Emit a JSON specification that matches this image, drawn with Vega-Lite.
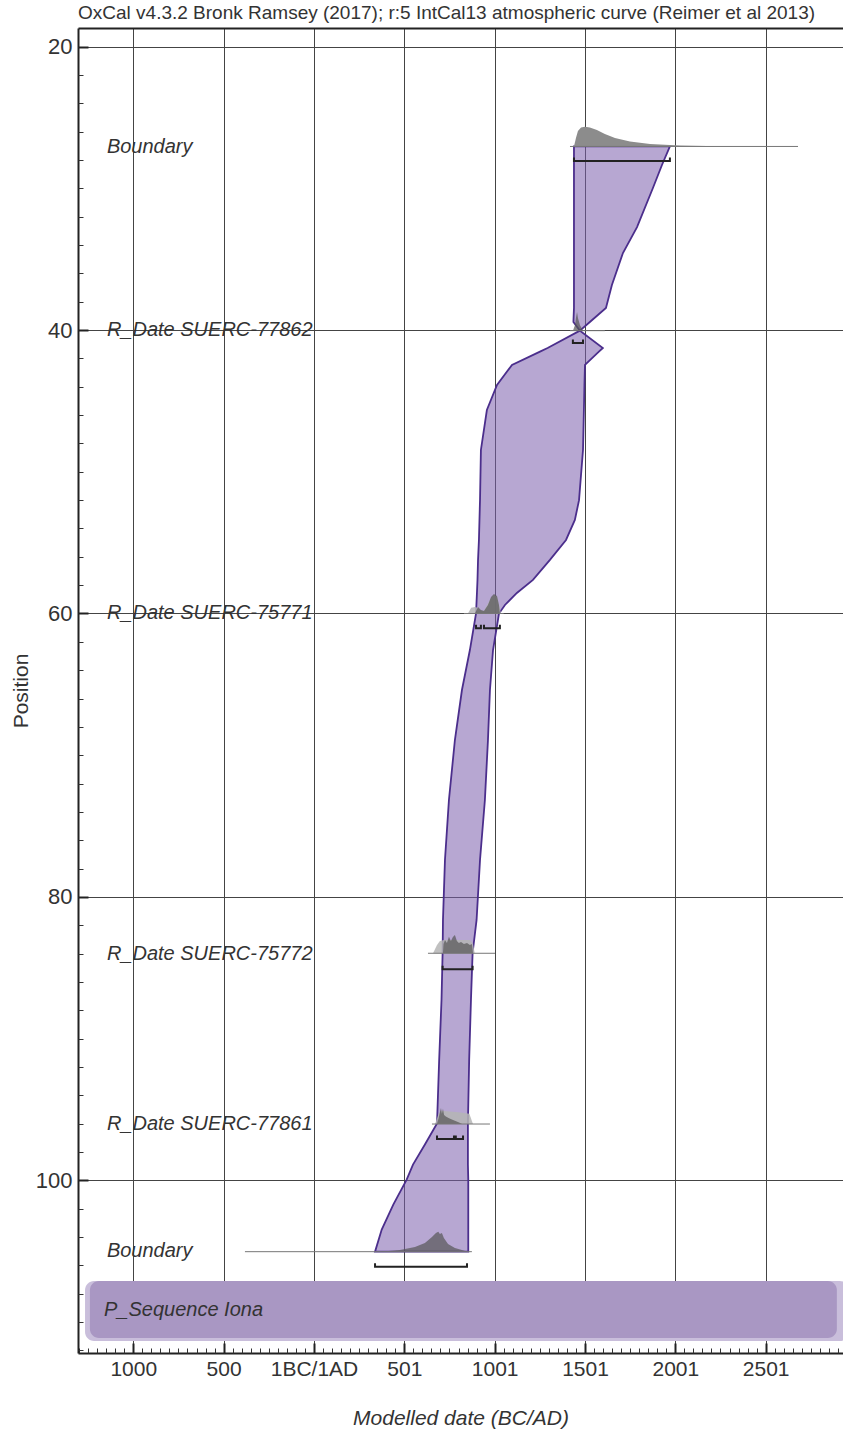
{
  "$schema": "https://vega.github.io/schema/vega-lite/v6.json",
  "width": 765,
  "height": 1325,
  "autosize": "none",
  "padding": {"left": 78, "top": 28, "right": 0, "bottom": 76},
  "background": "white",
  "title": {"text": "OxCal v4.3.2 Bronk Ramsey (2017); r:5 IntCal13 atmospheric curve (Reimer et al 2013)", "anchor": "start", "frame": "group", "font": "Liberation Sans Narrow, Liberation Sans", "fontSize": 19, "fontWeight": "normal", "color": "#333", "baseline": "alphabetic", "offset": -10},
  "config": {"view": {"stroke": null}, "font": "Liberation Sans"},
  "datasets": {
    "band": [
      {"part": "outer", "x1": -1267, "x2": 2960, "y1": 107.11, "y2": 111.35},
      {"part": "inner", "x1": -1240, "x2": 2894, "y1": 107.11, "y2": 111.14}
    ],
    "env": [
      {"pos": 27.04, "left": 1439, "right": 1970},
      {"pos": 28.35, "left": 1439, "right": 1926},
      {"pos": 29.97, "left": 1439, "right": 1876},
      {"pos": 32.73, "left": 1439, "right": 1788},
      {"pos": 34.56, "left": 1439, "right": 1710},
      {"pos": 36.82, "left": 1439, "right": 1649},
      {"pos": 38.44, "left": 1439, "right": 1616},
      {"pos": 39.43, "left": 1436, "right": 1527},
      {"pos": 40.04, "left": 1472, "right": 1472},
      {"pos": 41.26, "left": 1293, "right": 1599},
      {"pos": 41.52, "left": 1251, "right": 1577},
      {"pos": 42.46, "left": 1096, "right": 1500},
      {"pos": 43.87, "left": 1013, "right": 1497},
      {"pos": 45.64, "left": 957, "right": 1494},
      {"pos": 48.46, "left": 924, "right": 1489},
      {"pos": 52.0, "left": 919, "right": 1467},
      {"pos": 53.4, "left": 916, "right": 1444},
      {"pos": 54.81, "left": 913, "right": 1395},
      {"pos": 56.22, "left": 908, "right": 1306},
      {"pos": 57.63, "left": 905, "right": 1212},
      {"pos": 58.55, "left": 902, "right": 1123},
      {"pos": 59.4, "left": 899, "right": 1057},
      {"pos": 60.0, "left": 897, "right": 1024},
      {"pos": 62.58, "left": 863, "right": 991},
      {"pos": 65.4, "left": 819, "right": 974},
      {"pos": 68.93, "left": 780, "right": 963},
      {"pos": 73.16, "left": 747, "right": 946},
      {"pos": 77.4, "left": 725, "right": 919},
      {"pos": 81.63, "left": 714, "right": 900},
      {"pos": 83.96, "left": 712, "right": 878},
      {"pos": 87.24, "left": 706, "right": 869},
      {"pos": 91.48, "left": 693, "right": 859},
      {"pos": 95.99, "left": 681, "right": 852},
      {"pos": 97.48, "left": 614, "right": 852},
      {"pos": 98.89, "left": 548, "right": 852},
      {"pos": 99.95, "left": 513, "right": 854},
      {"pos": 101.72, "left": 439, "right": 854},
      {"pos": 103.48, "left": 375, "right": 854},
      {"pos": 105.04, "left": 338, "right": 854}
    ],
    "dist": [
      {"id": "b1", "kind": "top", "year": 1439, "top": 27.04, "base": 27.04},
      {"id": "b1", "kind": "top", "year": 1450, "top": 26.44, "base": 27.04},
      {"id": "b1", "kind": "top", "year": 1461, "top": 25.95, "base": 27.04},
      {"id": "b1", "kind": "top", "year": 1478, "top": 25.7, "base": 27.04},
      {"id": "b1", "kind": "top", "year": 1500, "top": 25.65, "base": 27.04},
      {"id": "b1", "kind": "top", "year": 1527, "top": 25.7, "base": 27.04},
      {"id": "b1", "kind": "top", "year": 1566, "top": 25.88, "base": 27.04},
      {"id": "b1", "kind": "top", "year": 1610, "top": 26.16, "base": 27.04},
      {"id": "b1", "kind": "top", "year": 1666, "top": 26.44, "base": 27.04},
      {"id": "b1", "kind": "top", "year": 1749, "top": 26.69, "base": 27.04},
      {"id": "b1", "kind": "top", "year": 1860, "top": 26.87, "base": 27.04},
      {"id": "b1", "kind": "top", "year": 2026, "top": 26.97, "base": 27.04},
      {"id": "b1", "kind": "top", "year": 2247, "top": 27.02, "base": 27.04},
      {"id": "b1", "kind": "top", "year": 2468, "top": 27.04, "base": 27.04},
      {"id": "d1", "kind": "post", "year": 1433, "top": 40.04, "base": 40.04},
      {"id": "d1", "kind": "post", "year": 1445, "top": 39.64, "base": 40.04},
      {"id": "d1", "kind": "post", "year": 1450, "top": 39.15, "base": 40.04},
      {"id": "d1", "kind": "post", "year": 1456, "top": 38.72, "base": 40.04},
      {"id": "d1", "kind": "post", "year": 1461, "top": 39.15, "base": 40.04},
      {"id": "d1", "kind": "post", "year": 1472, "top": 39.64, "base": 40.04},
      {"id": "d1", "kind": "post", "year": 1489, "top": 40.04, "base": 40.04},
      {"id": "d2p", "kind": "prior", "year": 852, "top": 60.0, "base": 60.0},
      {"id": "d2p", "kind": "prior", "year": 870, "top": 59.6, "base": 60.0},
      {"id": "d2p", "kind": "prior", "year": 891, "top": 59.55, "base": 60.0},
      {"id": "d2p", "kind": "prior", "year": 908, "top": 59.6, "base": 60.0},
      {"id": "d2p", "kind": "prior", "year": 924, "top": 59.8, "base": 60.0},
      {"id": "d2p", "kind": "prior", "year": 941, "top": 59.8, "base": 60.0},
      {"id": "d2p", "kind": "prior", "year": 963, "top": 59.3, "base": 60.0},
      {"id": "d2p", "kind": "prior", "year": 980, "top": 58.9, "base": 60.0},
      {"id": "d2p", "kind": "prior", "year": 996, "top": 58.7, "base": 60.0},
      {"id": "d2p", "kind": "prior", "year": 1013, "top": 58.8, "base": 60.0},
      {"id": "d2p", "kind": "prior", "year": 1024, "top": 59.4, "base": 60.0},
      {"id": "d2p", "kind": "prior", "year": 1035, "top": 60.0, "base": 60.0},
      {"id": "d2", "kind": "post", "year": 891, "top": 60.0, "base": 60.0},
      {"id": "d2", "kind": "post", "year": 908, "top": 59.54, "base": 60.0},
      {"id": "d2", "kind": "post", "year": 924, "top": 59.75, "base": 60.0},
      {"id": "d2", "kind": "post", "year": 941, "top": 59.82, "base": 60.0},
      {"id": "d2", "kind": "post", "year": 963, "top": 59.4, "base": 60.0},
      {"id": "d2", "kind": "post", "year": 980, "top": 58.83, "base": 60.0},
      {"id": "d2", "kind": "post", "year": 996, "top": 58.62, "base": 60.0},
      {"id": "d2", "kind": "post", "year": 1013, "top": 58.76, "base": 60.0},
      {"id": "d2", "kind": "post", "year": 1024, "top": 59.4, "base": 60.0},
      {"id": "d2", "kind": "post", "year": 1029, "top": 60.0, "base": 60.0},
      {"id": "d3p", "kind": "prior", "year": 659, "top": 83.98, "base": 83.98},
      {"id": "d3p", "kind": "prior", "year": 681, "top": 83.39, "base": 83.98},
      {"id": "d3p", "kind": "prior", "year": 697, "top": 83.11, "base": 83.98},
      {"id": "d3p", "kind": "prior", "year": 719, "top": 83.04, "base": 83.98},
      {"id": "d3p", "kind": "prior", "year": 863, "top": 83.04, "base": 83.98},
      {"id": "d3p", "kind": "prior", "year": 880, "top": 83.3, "base": 83.98},
      {"id": "d3p", "kind": "prior", "year": 890, "top": 83.98, "base": 83.98},
      {"id": "d3", "kind": "post", "year": 714, "top": 83.98, "base": 83.98},
      {"id": "d3", "kind": "post", "year": 717, "top": 83.32, "base": 83.98},
      {"id": "d3", "kind": "post", "year": 725, "top": 83.04, "base": 83.98},
      {"id": "d3", "kind": "post", "year": 736, "top": 83.25, "base": 83.98},
      {"id": "d3", "kind": "post", "year": 747, "top": 82.81, "base": 83.98},
      {"id": "d3", "kind": "post", "year": 758, "top": 83.11, "base": 83.98},
      {"id": "d3", "kind": "post", "year": 769, "top": 82.83, "base": 83.98},
      {"id": "d3", "kind": "post", "year": 780, "top": 82.69, "base": 83.98},
      {"id": "d3", "kind": "post", "year": 791, "top": 83.11, "base": 83.98},
      {"id": "d3", "kind": "post", "year": 802, "top": 83.25, "base": 83.98},
      {"id": "d3", "kind": "post", "year": 814, "top": 83.18, "base": 83.98},
      {"id": "d3", "kind": "post", "year": 830, "top": 83.32, "base": 83.98},
      {"id": "d3", "kind": "post", "year": 847, "top": 83.25, "base": 83.98},
      {"id": "d3", "kind": "post", "year": 863, "top": 83.39, "base": 83.98},
      {"id": "d3", "kind": "post", "year": 874, "top": 83.32, "base": 83.98},
      {"id": "d3", "kind": "post", "year": 880, "top": 83.98, "base": 83.98},
      {"id": "d4p", "kind": "prior", "year": 670, "top": 96.03, "base": 96.03},
      {"id": "d4p", "kind": "prior", "year": 690, "top": 95.3, "base": 96.03},
      {"id": "d4p", "kind": "prior", "year": 705, "top": 95.1, "base": 96.03},
      {"id": "d4p", "kind": "prior", "year": 800, "top": 95.2, "base": 96.03},
      {"id": "d4p", "kind": "prior", "year": 860, "top": 95.3, "base": 96.03},
      {"id": "d4p", "kind": "prior", "year": 880, "top": 96.03, "base": 96.03},
      {"id": "d4", "kind": "post", "year": 681, "top": 96.03, "base": 96.03},
      {"id": "d4", "kind": "post", "year": 690, "top": 95.6, "base": 96.03},
      {"id": "d4", "kind": "post", "year": 697, "top": 95.2, "base": 96.03},
      {"id": "d4", "kind": "post", "year": 703, "top": 94.9, "base": 96.03},
      {"id": "d4", "kind": "post", "year": 708, "top": 95.3, "base": 96.03},
      {"id": "d4", "kind": "post", "year": 714, "top": 94.95, "base": 96.03},
      {"id": "d4", "kind": "post", "year": 720, "top": 95.4, "base": 96.03},
      {"id": "d4", "kind": "post", "year": 730, "top": 95.5, "base": 96.03},
      {"id": "d4", "kind": "post", "year": 745, "top": 95.6, "base": 96.03},
      {"id": "d4", "kind": "post", "year": 760, "top": 95.7, "base": 96.03},
      {"id": "d4", "kind": "post", "year": 780, "top": 95.8, "base": 96.03},
      {"id": "d4", "kind": "post", "year": 800, "top": 95.9, "base": 96.03},
      {"id": "d4", "kind": "post", "year": 820, "top": 96.03, "base": 96.03},
      {"id": "b2", "kind": "post", "year": 365, "top": 105.04, "base": 105.04},
      {"id": "b2", "kind": "post", "year": 476, "top": 104.92, "base": 105.04},
      {"id": "b2", "kind": "post", "year": 559, "top": 104.71, "base": 105.04},
      {"id": "b2", "kind": "post", "year": 614, "top": 104.43, "base": 105.04},
      {"id": "b2", "kind": "post", "year": 653, "top": 104.01, "base": 105.04},
      {"id": "b2", "kind": "post", "year": 675, "top": 103.72, "base": 105.04},
      {"id": "b2", "kind": "post", "year": 688, "top": 103.63, "base": 105.04},
      {"id": "b2", "kind": "post", "year": 697, "top": 103.79, "base": 105.04},
      {"id": "b2", "kind": "post", "year": 708, "top": 103.72, "base": 105.04},
      {"id": "b2", "kind": "post", "year": 719, "top": 104.08, "base": 105.04},
      {"id": "b2", "kind": "post", "year": 742, "top": 104.5, "base": 105.04},
      {"id": "b2", "kind": "post", "year": 780, "top": 104.78, "base": 105.04},
      {"id": "b2", "kind": "post", "year": 819, "top": 104.92, "base": 105.04},
      {"id": "b2", "kind": "post", "year": 852, "top": 105.04, "base": 105.04}
    ],
    "baselines": [
      {"pos": 27.04, "x1": 1417, "x2": 2679},
      {"pos": 40.04, "x1": 1417, "x2": 1610},
      {"pos": 60.0, "x1": 830, "x2": 1050},
      {"pos": 83.98, "x1": 631, "x2": 1002},
      {"pos": 96.03, "x1": 653, "x2": 974},
      {"pos": 105.04, "x1": -382, "x2": 874}
    ],
    "brackets": [
      {"id": "r1", "ord": 1, "year": 1439, "pos": 27.82},
      {"id": "r1", "ord": 2, "year": 1439, "pos": 28.07},
      {"id": "r1", "ord": 3, "year": 1970, "pos": 28.07},
      {"id": "r1", "ord": 4, "year": 1970, "pos": 27.82},
      {"id": "r2", "ord": 1, "year": 1433, "pos": 40.66},
      {"id": "r2", "ord": 2, "year": 1433, "pos": 40.91},
      {"id": "r2", "ord": 3, "year": 1489, "pos": 40.91},
      {"id": "r2", "ord": 4, "year": 1489, "pos": 40.66},
      {"id": "r3a", "ord": 1, "year": 897, "pos": 60.79},
      {"id": "r3a", "ord": 2, "year": 897, "pos": 61.04},
      {"id": "r3a", "ord": 3, "year": 924, "pos": 61.04},
      {"id": "r3a", "ord": 4, "year": 924, "pos": 60.79},
      {"id": "r3b", "ord": 1, "year": 941, "pos": 60.79},
      {"id": "r3b", "ord": 2, "year": 941, "pos": 61.04},
      {"id": "r3b", "ord": 3, "year": 1029, "pos": 61.04},
      {"id": "r3b", "ord": 4, "year": 1029, "pos": 60.79},
      {"id": "r4", "ord": 1, "year": 712, "pos": 84.86},
      {"id": "r4", "ord": 2, "year": 712, "pos": 85.11},
      {"id": "r4", "ord": 3, "year": 878, "pos": 85.11},
      {"id": "r4", "ord": 4, "year": 878, "pos": 84.86},
      {"id": "r5a", "ord": 1, "year": 681, "pos": 96.84},
      {"id": "r5a", "ord": 2, "year": 681, "pos": 97.09},
      {"id": "r5a", "ord": 3, "year": 775, "pos": 97.09},
      {"id": "r5a", "ord": 4, "year": 775, "pos": 96.84},
      {"id": "r5b", "ord": 1, "year": 785, "pos": 96.84},
      {"id": "r5b", "ord": 2, "year": 785, "pos": 97.09},
      {"id": "r5b", "ord": 3, "year": 825, "pos": 97.09},
      {"id": "r5b", "ord": 4, "year": 825, "pos": 96.84},
      {"id": "r6", "ord": 1, "year": 338, "pos": 105.85},
      {"id": "r6", "ord": 2, "year": 338, "pos": 106.1},
      {"id": "r6", "ord": 3, "year": 847, "pos": 106.1},
      {"id": "r6", "ord": 4, "year": 847, "pos": 105.85}
    ],
    "labels": [
      {"label": "Boundary", "year": -1146, "pos": 27.1},
      {"label": "R_Date SUERC-77862", "year": -1146, "pos": 40.0},
      {"label": "R_Date SUERC-75771", "year": -1146, "pos": 60.0},
      {"label": "R_Date SUERC-75772", "year": -1146, "pos": 84.0},
      {"label": "R_Date SUERC-77861", "year": -1146, "pos": 96.0},
      {"label": "Boundary", "year": -1146, "pos": 105.0},
      {"label": "P_Sequence Iona", "year": -1162, "pos": 109.15}
    ]
  },
  "layer": [
    {
      "data": {"name": "band"},
      "mark": {"type": "rect", "cornerRadius": 9},
      "encoding": {
        "x": {"field": "x1", "type": "quantitative", "scale": {"domain": [-1306, 2928], "nice": false, "zero": false},
          "axis": {"orient": "bottom", "values": [-1000, -500, 0, 500, 1000, 1500, 2000, 2500], "labelExpr": "datum.value < 0 ? '' + abs(datum.value) : (datum.value == 0 ? '1BC/1AD' : '' + (datum.value + 1))", "grid": true, "gridColor": "#444", "gridWidth": 1, "gridOpacity": 1, "ticks": false, "domain": true, "domainColor": "#222", "domainWidth": 2, "labelFont": "Liberation Sans Narrow, Liberation Sans", "labelFontSize": 21, "labelColor": "#333", "labelPadding": 5, "labelFlush": false, "labelOverlap": false, "title": "Modelled date (BC/AD)", "titleFont": "Liberation Sans Narrow, Liberation Sans", "titleFontStyle": "italic", "titleFontSize": 21, "titleFontWeight": "normal", "titleColor": "#333", "titlePadding": 28}},
        "x2": {"field": "x2"},
        "y": {"field": "y1", "type": "quantitative", "scale": {"domain": [18.68, 112.19], "reverse": true, "nice": false, "zero": false},
          "axis": {"orient": "left", "values": [20, 40, 60, 80, 100], "grid": true, "gridColor": "#444", "gridWidth": 1, "gridOpacity": 1, "ticks": false, "domain": true, "domainColor": "#222", "domainWidth": 2, "labelFont": "Liberation Sans Narrow, Liberation Sans", "labelFontSize": 22, "labelColor": "#333", "labelPadding": 6, "title": "Position", "titleFont": "Liberation Sans Narrow, Liberation Sans", "titleFontSize": 21, "titleFontWeight": "normal", "titleColor": "#333", "titlePadding": 4}},
        "y2": {"field": "y2"},
        "color": {"field": "part", "type": "nominal", "scale": {"domain": ["outer", "inner"], "range": ["#c9bedb", "#a997c3"]}, "legend": null}
      }
    },
    {
      "data": {"name": "env"},
      "mark": {"type": "area", "orient": "horizontal", "fill": "#7b5fad", "fillOpacity": 0.55, "stroke": "#4b2e8c", "strokeWidth": 1.8},
      "encoding": {
        "y": {"field": "pos", "type": "quantitative", "scale": {"domain": [18.68, 112.19], "reverse": true, "nice": false, "zero": false},
          "axis": {"orient": "left", "values": [20, 22, 24, 26, 28, 30, 32, 34, 36, 38, 40, 42, 44, 46, 48, 50, 52, 54, 56, 58, 60, 62, 64, 66, 68, 70, 72, 74, 76, 78, 80, 82, 84, 86, 88, 90, 92, 94, 96, 98, 100, 102, 104, 106, 108, 110, 112], "ticks": true, "tickSize": -5, "tickColor": "#333", "tickWidth": 1, "labels": false, "grid": false, "domain": false, "title": null}},
        "x": {"field": "left", "type": "quantitative", "scale": {"domain": [-1306, 2928], "nice": false, "zero": false},
          "axis": {"orient": "bottom", "values": [-1300, -1250, -1200, -1150, -1100, -1050, -1000, -950, -900, -850, -800, -750, -700, -650, -600, -550, -500, -450, -400, -350, -300, -250, -200, -150, -100, -50, 0, 50, 100, 150, 200, 250, 300, 350, 400, 450, 500, 550, 600, 650, 700, 750, 800, 850, 900, 950, 1000, 1050, 1100, 1150, 1200, 1250, 1300, 1350, 1400, 1450, 1500, 1550, 1600, 1650, 1700, 1750, 1800, 1850, 1900, 1950, 2000, 2050, 2100, 2150, 2200, 2250, 2300, 2350, 2400, 2450, 2500, 2550, 2600, 2650, 2700, 2750, 2800, 2850, 2900], "ticks": true, "tickSize": -5, "tickColor": "#333", "tickWidth": 1, "labels": false, "grid": false, "domain": false, "title": null}},
        "x2": {"field": "right"}
      }
    },
    {
      "data": {"name": "dist"},
      "mark": {"type": "area", "interpolate": "linear"},
      "encoding": {
        "x": {"field": "year", "type": "quantitative", "scale": {"domain": [-1306, 2928], "nice": false, "zero": false},
          "axis": {"orient": "bottom", "values": [-1000, -500, 0, 500, 1000, 1500, 2000, 2500], "ticks": true, "tickSize": -10, "tickColor": "#222", "tickWidth": 2, "labels": false, "grid": false, "domain": false, "title": null}},
        "y": {"field": "top", "type": "quantitative", "scale": {"domain": [18.68, 112.19], "reverse": true, "nice": false, "zero": false},
          "axis": {"orient": "left", "values": [20, 40, 60, 80, 100], "ticks": true, "tickSize": -10, "tickColor": "#222", "tickWidth": 2, "labels": false, "grid": false, "domain": false, "title": null}},
        "y2": {"field": "base"},
        "detail": {"field": "id", "type": "nominal"},
        "fill": {"field": "kind", "type": "nominal", "scale": {"domain": ["top", "prior", "post"], "range": ["#8c8c8c", "#b5b5b5", "#555555"]}, "legend": null},
        "fillOpacity": {"field": "kind", "type": "nominal", "scale": {"domain": ["top", "prior", "post"], "range": [1, 0.7, 0.8]}, "legend": null}
      }
    },
    {
      "data": {"name": "baselines"},
      "mark": {"type": "rule", "color": "#777", "strokeWidth": 1},
      "encoding": {
        "x": {"field": "x1", "type": "quantitative", "scale": {"domain": [-1306, 2928], "nice": false, "zero": false},
          "axis": {"orient": "top", "domain": true, "domainWidth": 2, "domainColor": "#222", "ticks": false, "labels": false, "grid": false, "title": null}},
        "x2": {"field": "x2"},
        "y": {"field": "pos", "type": "quantitative", "scale": {"domain": [18.68, 112.19], "reverse": true, "nice": false, "zero": false}, "axis": null}
      }
    },
    {
      "data": {"name": "brackets"},
      "mark": {"type": "line", "color": "#222", "strokeWidth": 2, "interpolate": "linear"},
      "encoding": {
        "x": {"field": "year", "type": "quantitative", "scale": {"domain": [-1306, 2928], "nice": false, "zero": false}, "axis": null},
        "y": {"field": "pos", "type": "quantitative", "scale": {"domain": [18.68, 112.19], "reverse": true, "nice": false, "zero": false}, "axis": null},
        "detail": {"field": "id", "type": "nominal"},
        "order": {"field": "ord", "type": "quantitative"}
      }
    },
    {
      "data": {"name": "labels"},
      "mark": {"type": "text", "align": "left", "baseline": "middle", "font": "Liberation Sans", "fontStyle": "italic", "fontSize": 20, "color": "#333"},
      "encoding": {
        "x": {"field": "year", "type": "quantitative", "scale": {"domain": [-1306, 2928], "nice": false, "zero": false}, "axis": null},
        "y": {"field": "pos", "type": "quantitative", "scale": {"domain": [18.68, 112.19], "reverse": true, "nice": false, "zero": false}, "axis": null},
        "text": {"field": "label", "type": "nominal"}
      }
    }
  ],
  "resolve": {"axis": {"x": "independent", "y": "independent"}, "scale": {"color": "independent", "fill": "independent", "fillOpacity": "independent"}}
}
